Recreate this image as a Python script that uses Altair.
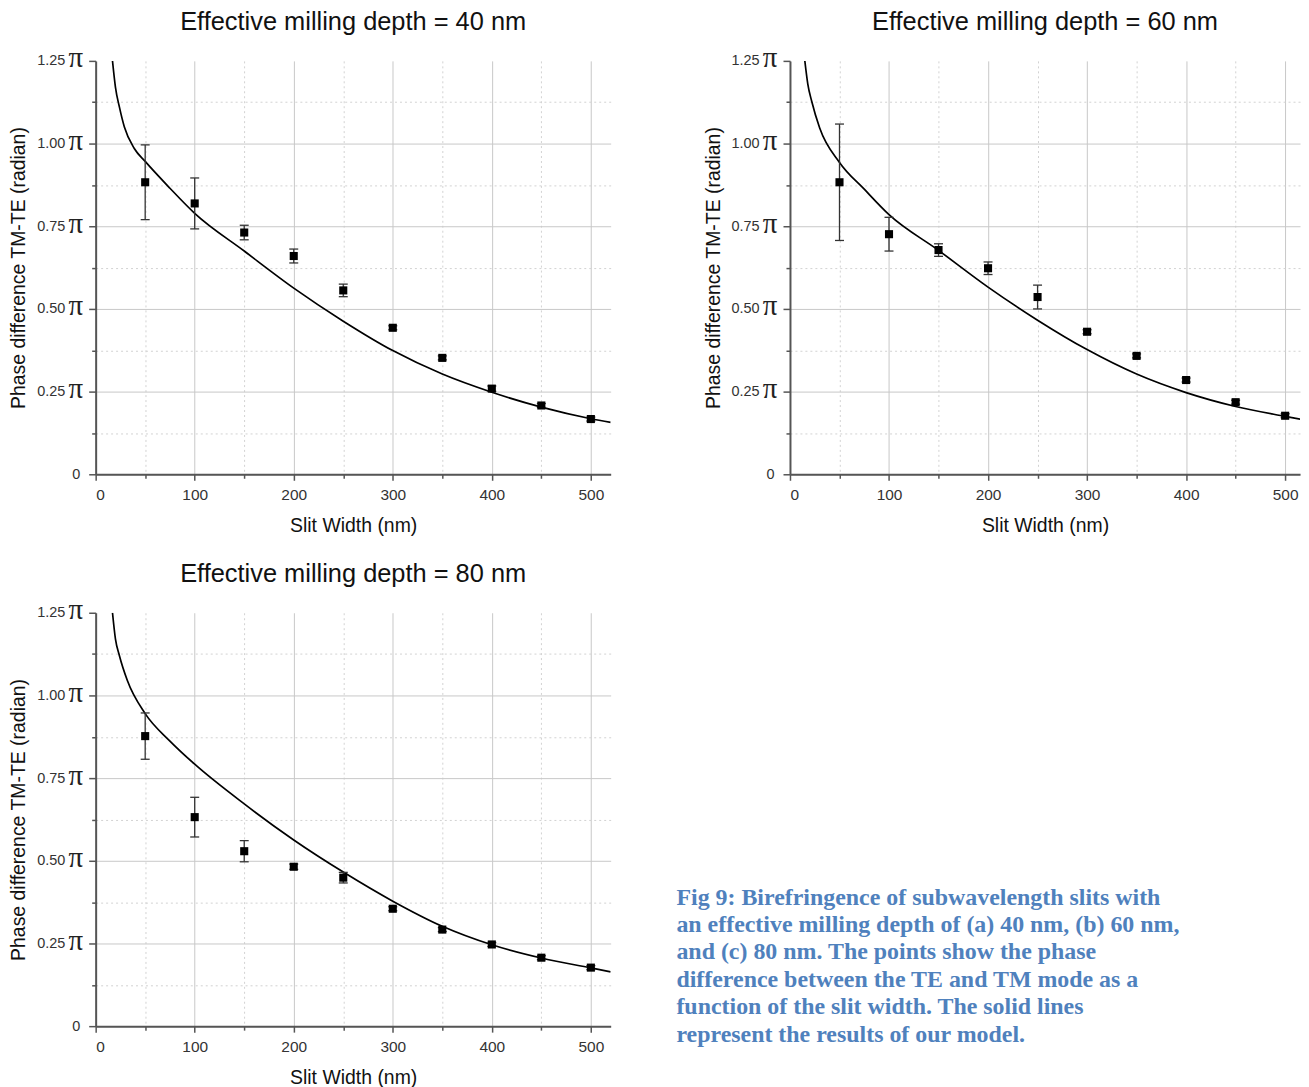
import altair as alt
import pandas as pd

# ---------------- data ----------------
slit_width = [50, 100, 150, 200, 250, 300, 350, 400, 450, 500]

# (a) effective milling depth 40 nm
phase_40 = [0.883, 0.819, 0.731, 0.660, 0.556, 0.443, 0.352, 0.259, 0.208, 0.167]
err_40 = [0.113, 0.077, 0.022, 0.021, 0.019, 0.006, 0.006, 0.008, 0.006, 0.006]
model_w_40 = [17, 20, 24, 29, 39, 50, 75, 100, 150, 200, 250, 300, 350, 400, 450, 500, 520]
model_v_40 = [1.25, 1.17, 1.11, 1.05, 0.985, 0.946, 0.865, 0.789, 0.675, 0.563, 0.463,
              0.374, 0.303, 0.248, 0.203, 0.168, 0.157]

# (b) effective milling depth 60 nm
phase_60 = [0.883, 0.726, 0.678, 0.623, 0.536, 0.431, 0.358, 0.285, 0.218, 0.177]
err_60 = [0.176, 0.051, 0.019, 0.019, 0.036, 0.006, 0.006, 0.006, 0.006, 0.006]
model_w_60 = [15, 18, 22, 30, 50, 75, 100, 150, 200, 250, 300, 350, 400, 450, 500, 516]
model_v_60 = [1.25, 1.18, 1.127, 1.047, 0.943, 0.862, 0.785, 0.677, 0.566, 0.466,
              0.377, 0.303, 0.247, 0.205, 0.175, 0.166]

# (c) effective milling depth 80 nm
phase_80 = [0.877, 0.632, 0.529, 0.482, 0.449, 0.355, 0.292, 0.247, 0.207, 0.177]
err_80 = [0.070, 0.060, 0.032, 0.008, 0.016, 0.006, 0.006, 0.006, 0.006, 0.006]
model_w_80 = [17, 20, 24, 32, 50, 75, 100, 150, 200, 250, 300, 350, 400, 450, 500, 520]
model_v_80 = [1.25, 1.17, 1.12, 1.045, 0.945, 0.862, 0.792, 0.672, 0.563, 0.466,
              0.378, 0.302, 0.246, 0.206, 0.176, 0.164]

titles = ["Effective milling depth = 40 nm",
          "Effective milling depth = 60 nm",
          "Effective milling depth = 80 nm"]

x_major = [0, 100, 200, 300, 400, 500]
x_minor = [50, 150, 250, 350, 450]
y_major = [0, 0.25, 0.5, 0.75, 1.0, 1.25]
y_minor = [0.125, 0.375, 0.625, 0.875, 1.125]
pi_ticks = [0.25, 0.5, 0.75, 1.0, 1.25]

caption_lines = [
    "Fig 9: Birefringence of subwavelength slits with",
    "an effective milling depth of (a) 40 nm, (b) 60 nm,",
    "and (c) 80 nm.  The points show the phase",
    "difference between the TE and TM mode as a",
    "function of the slit width. The solid lines",
    "represent the results of our model.",
]

FONT = "Liberation Sans"
AX = "#555555"


def panel(title, phase, err, cw, cv, width, xmax):
    pts = pd.DataFrame({
        "w": slit_width,
        "v": phase,
        "lo": [p - e for p, e in zip(phase, err)],
        "hi": [p + e for p, e in zip(phase, err)],
    })
    crv = pd.DataFrame({"w": cw, "v": cv})
    pis = pd.DataFrame({"t": pi_ticks})

    xs = alt.Scale(domain=[0, xmax], nice=False, zero=False)
    ys = alt.Scale(domain=[0, 1.25], nice=False)

    ax_x_major = alt.Axis(
        orient="bottom", values=x_major, format="d",
        grid=True, gridColor="#c8c8c8", gridWidth=1,
        domainColor=AX, domainWidth=2, tickColor=AX, tickWidth=1.5, tickSize=6,
        labelFont=FONT, labelFontSize=15.5, labelColor="#333333", labelPadding=7,
        title="Slit Width (nm)", titleFont=FONT, titleFontSize=19.5,
        titleFontWeight="normal", titleColor="#111111", titlePadding=14,
    )
    ax_x_minor = alt.Axis(
        orient="bottom", values=x_minor, labels=False, domain=False,
        grid=True, gridColor="#d2d2d2", gridDash=[2, 3], gridWidth=1,
        tickColor=AX, tickWidth=1.5, tickSize=4, title=None,
    )
    ax_y_major = alt.Axis(
        orient="left", values=y_major,
        labelExpr="datum.value == 0 ? '0' : format(datum.value, '.2f')",
        grid=True, gridColor="#c8c8c8", gridWidth=1,
        gridOpacity={"condition": {"test": "datum.value >= 1.25", "value": 0}, "value": 1},
        domainColor=AX, domainWidth=2, tickColor=AX, tickWidth=1.5, tickSize=7,
        labelFont=FONT, labelFontSize=14.5, labelColor="#333333",
        labelPadding={"condition": {"test": "datum.value == 0", "value": 9}, "value": 24},
        title="Phase difference TM-TE (radian)", titleFont=FONT, titleFontSize=19.5,
        titleFontWeight="normal", titleColor="#111111", titlePadding=8,
    )
    ax_y_minor = alt.Axis(
        orient="left", values=y_minor, labels=False, domain=False,
        grid=True, gridColor="#d2d2d2", gridDash=[2, 3], gridWidth=1,
        tickColor=AX, tickWidth=1.5, tickSize=4, title=None,
    )

    minor = alt.Chart(crv).mark_line(opacity=0).encode(
        x=alt.X("w:Q", scale=xs, axis=ax_x_minor),
        y=alt.Y("v:Q", scale=ys, axis=ax_y_minor),
    )
    model = alt.Chart(crv).mark_line(
        color="black", strokeWidth=1.7, interpolate="monotone", clip=True
    ).encode(
        x=alt.X("w:Q", scale=xs, axis=ax_x_major),
        y=alt.Y("v:Q", scale=ys, axis=ax_y_major),
    )
    bars = alt.Chart(pts).mark_rule(color="#333333", strokeWidth=1.3).encode(
        x=alt.X("w:Q", scale=xs, axis=None),
        y=alt.Y("lo:Q", scale=ys, axis=None),
        y2="hi:Q",
    )
    cap_lo = alt.Chart(pts).mark_tick(
        orient="horizontal", size=9, thickness=1.3, color="#333333", opacity=1
    ).encode(
        x=alt.X("w:Q", scale=xs, axis=None),
        y=alt.Y("lo:Q", scale=ys, axis=None),
    )
    cap_hi = alt.Chart(pts).mark_tick(
        orient="horizontal", size=9, thickness=1.3, color="#333333", opacity=1
    ).encode(
        x=alt.X("w:Q", scale=xs, axis=None),
        y=alt.Y("hi:Q", scale=ys, axis=None),
    )
    squares = alt.Chart(pts).mark_square(size=66, color="black", opacity=1).encode(
        x=alt.X("w:Q", scale=xs, axis=None),
        y=alt.Y("v:Q", scale=ys, axis=None),
    )
    pi = alt.Chart(pis).mark_text(
        text="π", font="Liberation Serif", fontSize=29, align="center",
        baseline="alphabetic", dy=6.5, color="#222222"
    ).encode(
        x=alt.value(-20),
        y=alt.Y("t:Q", scale=ys, axis=None),
    )

    return alt.layer(minor, model, bars, cap_lo, cap_hi, squares, pi).resolve_axis(
        x="independent", y="independent"
    ).properties(
        width=width, height=415,
        title=alt.TitleParams(
            text=title, font=FONT, fontSize=25.5, fontWeight="normal",
            color="#111111", anchor="middle", offset=9,
        ),
    )


p1 = panel(titles[0], phase_40, err_40, model_w_40, model_v_40, 517, 520)
p2 = panel(titles[1], phase_60, err_60, model_w_60, model_v_60, 512, 515)
p3 = panel(titles[2], phase_80, err_80, model_w_80, model_v_80, 517, 520)

cap_df = pd.DataFrame({"t": ["\n".join(caption_lines)]})
caption = alt.Chart(cap_df).mark_text(
    align="left", baseline="alphabetic", lineBreak="\n", lineHeight=27.5,
    font="Liberation Serif", fontWeight="bold", fontSize=24, color="#4f81bd",
).encode(
    text="t:N",
    x=alt.value(1),
    y=alt.value(293),
).properties(width=520, height=415)

row1 = alt.hconcat(p1, p2, spacing=92)
row2 = alt.hconcat(p3, caption, spacing=65)

chart = alt.vconcat(row1, row2, spacing=27).properties(
    padding={"left": 0, "top": 0, "right": 0, "bottom": 0},
    background="white",
).configure_view(stroke=None)

chart.save("out.html", embed_options={"renderer": "svg", "actions": False})
